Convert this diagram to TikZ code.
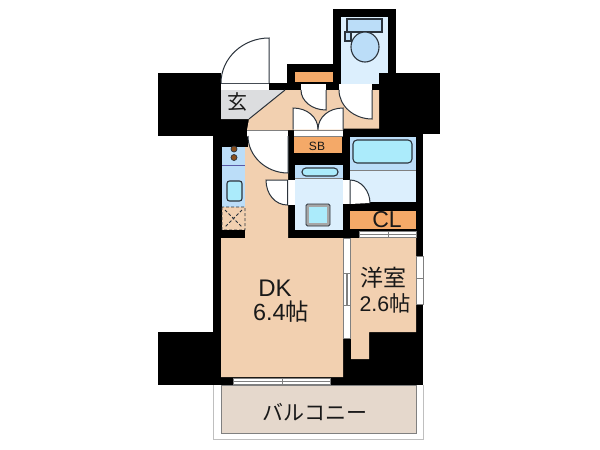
\documentclass[tikz,border=0pt]{standalone}
\usepackage{fontspec}
\setmainfont{Liberation Sans}
\newfontfamily\cjk{Noto Sans CJK JP}
\definecolor{tanf}{HTML}{F2D0B0}
\definecolor{orng}{HTML}{F4A968}
\definecolor{lblue}{HTML}{DCEFFD}
\definecolor{mblue}{HTML}{BBDDF8}
\definecolor{cyanb}{HTML}{ABEBFB}
\definecolor{bal}{HTML}{E5D8CC}
\definecolor{ent}{HTML}{DCDDDF}
\definecolor{ln}{HTML}{2B333C}
\definecolor{brn}{HTML}{8B4F1C}
\tikzset{x=1pt,y=-1pt,
 fixt/.style={draw=ln,line width=1.1pt},
 door/.style={fill=white,draw=ln,line width=1pt},
 sash/.style={fill=white,draw=gray,line width=0.9pt},
 lab/.style={inner sep=0pt,text=black!90,align=center}}
\begin{document}
\begin{tikzpicture}
\useasboundingbox (0,0) rectangle (600,450);
% balcony
\draw[gray!50,line width=0.7pt] (213,385) -- (213,439) -- (423,439) -- (423,385);
\fill[bal,draw=gray,line width=0.9pt] (221,385) rectangle (416,433);
% black structure
\fill[black] (158,73) rectangle (221,136);
\fill[black] (213,130) rectangle (222,335);
\fill[black] (158,332) rectangle (222,385);
\fill[black] (221,83) rectangle (423,385);
\fill[black] (287,64) rectangle (340,84);
\fill[black] (333,9) rectangle (396,84);
\fill[black] (379,73) rectangle (440,134);
% floors
\fill[ent] (221,90) -- (285,90) -- (249,119) -- (221,119) -- cycle;
\fill[tanf] (285,90) -- (379,90) -- (379,128.5) -- (343,128.5) -- (343,130) -- (247,130) -- (249,119) -- cycle;
\draw[ln,line width=1pt] (285,90) -- (249,119);
\fill[tanf] (248,136) -- (288,136) -- (288,238) -- (343,238) -- (343,377) -- (221,377) -- (221,238) -- (245,238) -- (245,147) -- (248,147) -- cycle;
\fill[tanf] (351,238) -- (416,238) -- (416,332) -- (369,332) -- (369,359) -- (351,359) -- cycle;
% closet, SB, CL
\fill[orng] (295,72) rectangle (333,82);
\fill[orng] (294,137) rectangle (342,153);
\fill[orng] (350,211) rectangle (416,229);
% toilet
\fill[lblue] (341,17) rectangle (388,73);
\fill[lblue] (341,73) rectangle (379,83.5);
\draw[fixt,fill=mblue] (347,19) rectangle (382,32);
\draw[fixt,fill=mblue] (345,32) rectangle (351,41);
\draw[fixt,fill=mblue] (365,47) ellipse [x radius=14,y radius=15];
% kitchen
\fill[mblue] (222,147) rectangle (245,207);
\draw[gray!70!blue,line width=0.7pt] (222,165) -- (245,165);
\draw[ln,line width=0.7pt,fill=brn] (234,149) circle (3);
\draw[ln,line width=0.7pt,fill=brn] (234,157.5) circle (3);
\draw[fixt,fill=cyanb,rounded corners=2.5pt] (227,181) rectangle (242,201);
\fill[tanf] (222,207) rectangle (245,230);
\draw[ln,densely dashed,line width=0.9pt] (222,207) rectangle (245,230) (225,210) -- (242,227) (242,210) -- (225,227);
\fill[black] (221,230) rectangle (245,238);
% washroom
\fill[lblue] (295,165) rectangle (343,230);
\fill[mblue] (295,165) rectangle (343,178.5);
\draw[gray,line width=0.7pt] (295,178.5) -- (343,178.5);
\draw[fixt,fill=cyanb,rounded corners=3.9pt] (302,168) rectangle (338,176);
\draw[ln,line width=0.8pt,fill=gray!70,rounded corners=1.5pt] (306,204) rectangle (330,226);
\fill[cyanb] (309,207) rectangle (327,223);
% bathroom
\fill[lblue] (350,137) rectangle (416,202);
\fill[mblue] (350,137) rectangle (416,170);
\draw[gray,line width=0.7pt] (350,170) -- (416,170);
\draw[fixt,fill=cyanb,rounded corners=4pt] (353,140) rectangle (412,163);
% door bands
\fill[white] (221,83) rectangle (269,90);
\draw[ln,line width=1pt] (221,83) -- (269,83);
\fill[white] (301,84) rectangle (326,90);
\fill[white] (339,84) rectangle (372,90);
\fill[white] (247,130) rectangle (288,136);
\draw[gray,line width=0.8pt] (247,130) -- (288,130) (247,136) -- (288,136);
\fill[white] (294,130) rectangle (343,136);
\draw[gray,line width=0.8pt] (294,130) -- (343,130) (294,136) -- (343,136);
\fill[white] (288,180) rectangle (295,205);
\fill[white] (343,180) rectangle (350,204);
% door leaves
\draw[door] (269,83) -- (269,38) .. controls (243,38) and (221,58) .. (221,83);
\draw[door] (326,90) -- (326,110) .. controls (312,110) and (301,101) .. (301,90);
\draw[door] (372,90) -- (372,119) .. controls (354,119) and (339,106) .. (339,90);
\draw[door] (293,129.5) -- (293,108) .. controls (307,108) and (318,117) .. (318,129.5);
\draw[door] (343,129.5) -- (343,108) .. controls (329,108) and (318,117) .. (318,129.5);
\draw[door] (288,136) -- (288,173) .. controls (266,173) and (248,156) .. (248,136);
\draw[door] (287.5,180) -- (266,180) .. controls (266,194) and (275,205) .. (287.5,205) -- cycle;
\draw[door] (350,204) -- (350,180) .. controls (361,180) and (370,191) .. (370,203);
% sashes
\draw[sash] (359,231) rectangle (416,237);
\draw[gray,line width=0.9pt] (359,234) -- (416,234) (388,231) -- (388,237);
\draw[sash] (343,238) rectangle (350,338);
\draw[gray,line width=1.2pt] (347,273) -- (347,305);
\draw[gray,line width=0.9pt] (343,273) -- (350,273) (343,305) -- (350,305);
\draw[sash] (416,256) rectangle (423,304);
\draw[gray,line width=0.9pt] (416,278) -- (423,278);
\draw[sash] (233,378) rectangle (330,384);
\draw[gray,line width=0.9pt] (233,381) -- (330,381) (282,378) -- (282,384);
% labels
\node[lab,font=\cjk\fontsize{20}{20}\selectfont] (genkan) at (237,102) {玄};
\node[lab,font=\fontsize{12}{12}\selectfont] (sb) at (317,146) {SB};
\node[lab,font=\fontsize{23}{23}\selectfont] (cl) at (387,220) {CL};
\node[lab,font=\fontsize{24}{24}\selectfont] (dk) at (275,288) {DK};
\node[lab,font=\fontsize{23.4}{23.4}\selectfont] (dka) at (281,312) {6.4{\cjk 帖}};
\node[lab,font=\cjk\fontsize{23}{23}\selectfont] (yo) at (383,278) {洋室};
\node[lab,font=\fontsize{21.3}{21.3}\selectfont] (yoa) at (385,303) {2.6{\cjk 帖}};
\node[lab,font=\cjk\fontsize{21}{21}\selectfont] (balc) at (315,412) {バルコニー};
\end{tikzpicture}
\end{document}
